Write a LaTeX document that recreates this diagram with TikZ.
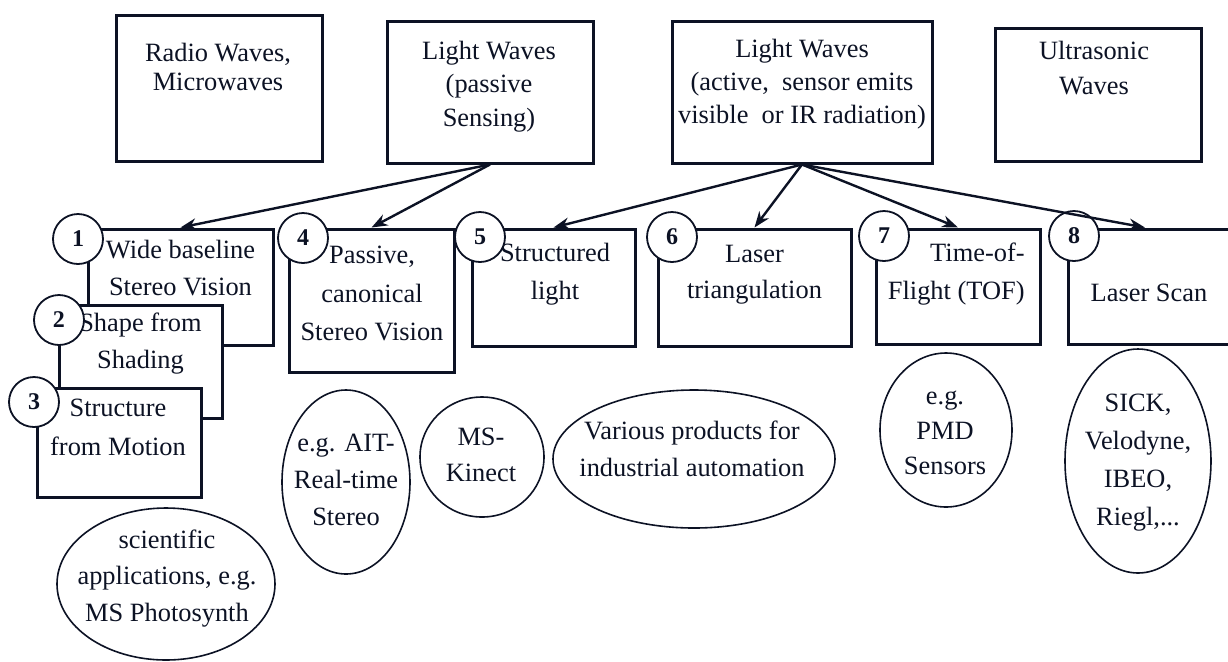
\documentclass[tikz,border=0pt]{standalone}
\usepackage{fontspec}
\setmainfont{Liberation Serif}
\usetikzlibrary{shapes.geometric,arrows.meta,calc}
\definecolor{ink}{RGB}{12,18,36}
\begin{document}
\begin{tikzpicture}[x=0.5pt,y=-0.5pt,
  box/.style={draw=ink,line width=1.5pt,fill=white,inner sep=0pt,rectangle},
  txt/.style={align=center,inner sep=0pt,text=ink},
  fs/.style={font=\fontsize{13.2pt}{#1}\selectfont},
  num/.style={circle,draw=ink,line width=0.9pt,fill=white,minimum size=25pt,inner sep=0pt,text=ink,font=\bfseries\fontsize{12pt}{14pt}\selectfont},
  oval/.style={ellipse,draw=ink,line width=0.8pt,inner sep=0pt},
  arr/.style={draw=ink,line width=1.2pt,-{Stealth[length=8pt,width=6pt]}}]
\useasboundingbox (0,0) rectangle (1228,661);
% top row
\node[box,minimum width=103pt,minimum height=73pt] (R) at (219,88) {};
\node[box,minimum width=103pt,minimum height=71pt] (P) at (490,92) {};
\node[box,minimum width=130pt,minimum height=71pt] (A) at (802,92) {};
\node[box,minimum width=103pt,minimum height=66.5pt] (U) at (1098,94.5) {};
\node[txt,fs=14.5pt] (tR) at (218,66.5) {Radio Waves,\\Microwaves};
\node[txt,fs=16.75pt] (tP) at (489,86.5) {Light Waves\\(passive\\Sensing)};
\node[txt,fs=16.5pt] (tA) at (802,84.5) {Light Waves\\(active,\ \ sensor emits\\visible\ \ or IR radiation)};
\node[txt,fs=17.5pt] (tU) at (1094,68.5) {Ultrasonic\\Waves};
% method boxes
\node[box,minimum width=92.5pt,minimum height=58pt] (b1) at (180.5,287) {};
\node[txt,fs=18.5pt] (t1) at (180.5,268.5) {Wide baseline\\Stereo Vision};
\node[box,minimum width=81.5pt,minimum height=56.5pt] (b2) at (140.5,361.5) {};
\node[txt,fs=18.5pt] (t2) at (140.5,343.5) {Shape from\\Shading};
\node[box,minimum width=82pt,minimum height=54.5pt] (b3) at (119,442.5) {};
\node[txt,fs=19.5pt] (t3) at (118,427.5) {Structure\\from Motion};
\node[box,minimum width=82.5pt,minimum height=71.5pt] (b4) at (371.5,300.5) {};
\node[txt,fs=19.25pt] (t4) at (372,293.5) {Passive,\\canonical\\Stereo Vision};
\node[box,minimum width=81.5pt,minimum height=58.5pt] (b5) at (553.5,287.5) {};
\node[txt,fs=19pt] (t5) at (555,274) {Structured\\light};
\node[box,minimum width=96.5pt,minimum height=58.5pt] (b6) at (754.5,287.5) {};
\node[txt,fs=18pt] (t6) at (754.5,275) {Laser\\triangulation};
\node[box,minimum width=82pt,minimum height=57.5pt] (b7) at (958,286.5) {};
\node[txt,fs=19pt,align=right,anchor=east] (t7) at (1025,274) {Time-of-\\Flight (TOF)};
\node[box,minimum width=86pt,minimum height=57.5pt] (b8) at (1154,286.5) {};
\node[txt,fs=18pt] (t8) at (1149,293) {Laser Scan};
% number circles
\node[num] (c1) at (78,239) {1};
\node[num] (c2) at (59,320) {2};
\node[num] (c3) at (34,402) {3};
\node[num] (c4) at (303,238) {4};
\node[num] (c5) at (480,237) {5};
\node[num] (c6) at (672,237) {6};
\node[num] (c7) at (884,236) {7};
\node[num] (c8) at (1074,236) {8};
% ellipses
\node[oval,minimum width=109pt,minimum height=76pt] (eS) at (166,584) {};
\node[txt,fs=18.25pt] (tS) at (167,578.5) {scientific\\applications, e.g.\\MS Photosynth};
\node[oval,minimum width=64pt,minimum height=92pt] (eA) at (346,482) {};
\node[txt,fs=18.5pt] (tAIT) at (346,480) {e.g. AIT-\\Real-time\\Stereo};
\node[oval,minimum width=62pt,minimum height=60pt] (eK) at (482,457) {};
\node[txt,fs=18pt] (tK) at (481,455) {MS-\\Kinect};
\node[oval,minimum width=141pt,minimum height=69pt] (eV) at (694,459) {};
\node[txt,fs=18.5pt] (tV) at (692,448.5) {Various products for\\industrial automation};
\node[oval,minimum width=66pt,minimum height=77pt] (eP) at (946,430) {};
\node[txt,fs=17.5pt] (tPMD) at (945,433) {e.g.\\PMD\\Sensors};
\node[oval,minimum width=73pt,minimum height=112pt] (eL) at (1138,461) {};
\node[txt,fs=19pt] (tL) at (1138,462.5) {SICK,\\Velodyne,\\IBEO,\\Riegl,...};
% arrows
\draw[arr] (P.south) -- (b1.north);
\draw[arr] (P.south) -- (b4.north);
\draw[arr] (A.south) -- (b5.north);
\draw[arr] (A.south) -- (b6.north);
\draw[arr] (A.south) -- (b7.north);
\draw[arr] (A.south) -- ([xshift=-4.5pt]b8.north);
\end{tikzpicture}
\end{document}
